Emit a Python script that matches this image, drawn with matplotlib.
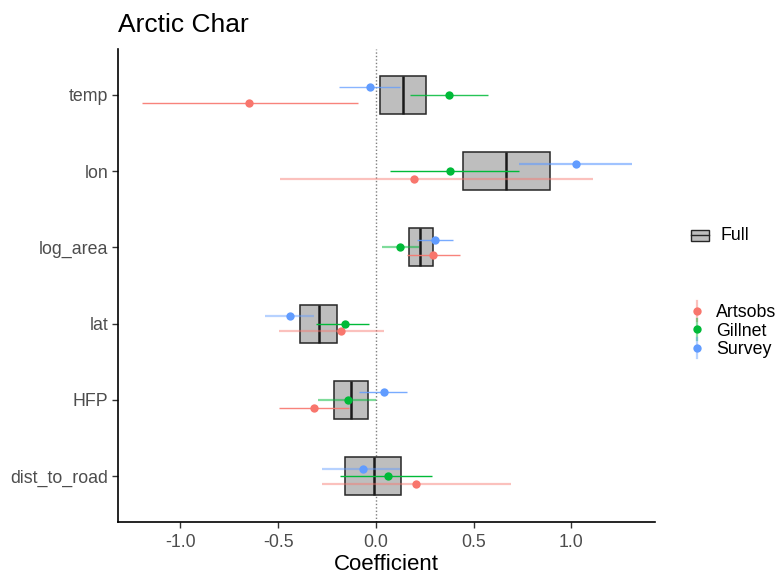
import matplotlib
matplotlib.use("Agg")
import matplotlib.pyplot as plt
from matplotlib.patches import Rectangle
from matplotlib.lines import Line2D
from matplotlib.legend_handler import HandlerBase
import numpy as np

plt.rcParams["font.family"] = ["Liberation Sans", "DejaVu Sans"]

# Predictors, listed top to bottom
variables = ["temp", "lon", "log_area", "lat", "HFP", "dist_to_road"]

# Full model: interquartile box and median of the coefficient
full_q1 = [0.020, 0.445, 0.170, -0.387, -0.216, -0.157]
full_med = [0.137, 0.668, 0.227, -0.290, -0.128, -0.009]
full_q3 = [0.256, 0.890, 0.290, -0.198, -0.041, 0.128]

# Per-source estimates with intervals
sources = ["Artsobs", "Gillnet", "Survey"]
artsobs_est = [-0.649, 0.196, 0.295, -0.177, -0.319, 0.205]
artsobs_lo = [-1.198, -0.488, 0.159, -0.495, -0.495, -0.276]
artsobs_hi = [-0.092, 1.112, 0.431, 0.041, -0.135, 0.690]

gillnet_est = [0.373, 0.378, 0.126, -0.157, -0.141, 0.063]
gillnet_lo = [0.175, 0.072, 0.031, -0.306, -0.294, -0.182]
gillnet_hi = [0.573, 0.735, 0.222, -0.036, 0.000, 0.288]

survey_est = [-0.032, 1.022, 0.305, -0.438, 0.041, -0.067]
survey_lo = [-0.187, 0.733, 0.211, -0.568, -0.086, -0.276]
survey_hi = [0.123, 1.310, 0.395, -0.314, 0.159, 0.124]

# Interval line opacity per predictor
artsobs_alpha = [0.9, 0.45, 0.9, 0.45, 0.9, 0.45]
gillnet_alpha = [0.85, 1.0, 0.5, 1.0, 0.5, 1.0]
survey_alpha = [0.75, 0.6, 0.85, 0.45, 0.85, 0.45]

colors = {"Artsobs": "#F8766D", "Gillnet": "#00BA38", "Survey": "#619CFF"}
offsets = {"Artsobs": -0.1, "Gillnet": 0.0, "Survey": 0.1}
series = {
    "Artsobs": (artsobs_est, artsobs_lo, artsobs_hi, artsobs_alpha),
    "Gillnet": (gillnet_est, gillnet_lo, gillnet_hi, gillnet_alpha),
    "Survey": (survey_est, survey_lo, survey_hi, survey_alpha),
}

n = len(variables)
ypos = np.arange(n)[::-1] + 1  # temp at top

fig = plt.figure(figsize=(7.81, 5.78), dpi=100)
ax = fig.add_axes([0.151, 0.097, 0.688, 0.818])

# Zero reference
ax.axvline(0, color="#7F7F7F", lw=1.0, ls=(0, (1, 1.5)), zorder=1)

# Full-model boxes
q1 = np.array(full_q1)
q3 = np.array(full_q3)
ax.barh(ypos, q3 - q1, left=q1, height=0.5, color="#BEBEBE",
        edgecolor="#262626", linewidth=1.1, zorder=2)
ax.vlines(full_med, ypos - 0.25, ypos + 0.25, color="#1A1A1A", lw=1.8, zorder=3)

# Source-specific point ranges
for s in sources:
    est, lo, hi, al = series[s]
    yy = ypos + offsets[s]
    for i in range(n):
        a = al[i]
        lw = 1.0 if a >= 0.7 else 1.6
        ax.plot([lo[i], hi[i]], [yy[i], yy[i]], color=colors[s], alpha=a,
                lw=lw, solid_capstyle="butt", zorder=4)
    ax.plot(est, yy, "o", color=colors[s], ms=6, mec="none", zorder=5)

ax.set_xlim(-1.32, 1.43)
ax.set_ylim(0.4, 6.6)
ax.set_yticks(ypos)
ax.set_yticklabels(variables)
ax.set_xticks([-1.0, -0.5, 0.0, 0.5, 1.0])
ax.set_xticklabels(["-1.0", "-0.5", "0.0", "0.5", "1.0"])
ax.tick_params(axis="both", labelsize=12.8, labelcolor="#4D4D4D",
               color="#333333", length=4, width=1.0)
ax.tick_params(axis="x", pad=5)
ax.tick_params(axis="y", pad=3)
for side in ["top", "right"]:
    ax.spines[side].set_visible(False)
for side in ["left", "bottom"]:
    ax.spines[side].set_linewidth(1.2)
    ax.spines[side].set_color("black")

ax.set_xlabel("Coefficient", fontsize=16, color="black", labelpad=2)
ax.set_title("Arctic Char", fontsize=19, loc="left", pad=12, color="black")


class BoxKey(HandlerBase):
    def create_artists(self, legend, orig, xd, yd, w, h, fontsize, trans):
        r = Rectangle((xd, yd), w, h, facecolor="#BEBEBE", edgecolor="#262626",
                      lw=1.0, transform=trans)
        ln = Line2D([xd, xd + w], [yd + h / 2] * 2, color="#262626", lw=1.0,
                    transform=trans)
        return [r, ln]


class RangeKey(HandlerBase):
    def create_artists(self, legend, orig, xd, yd, w, h, fontsize, trans):
        c = orig.get_color()
        cx = xd + w / 2
        ln = Line2D([cx, cx], [yd - 3, yd + h + 3], color=c, alpha=0.45, lw=1.6,
                    transform=trans)
        pt = Line2D([cx], [yd + h / 2], marker="o", ms=6, color=c, mec="none",
                    transform=trans)
        return [ln, pt]


box_handle = Rectangle((0, 0), 1, 1)
leg1 = fig.legend([box_handle], ["Full"], handler_map={Rectangle: BoxKey()},
                  loc="center left", bbox_to_anchor=(0.873, 0.592),
                  frameon=False, fontsize=12.8, handlelength=1.05,
                  handleheight=0.6, handletextpad=0.65, borderpad=0)

pt_handles = [Line2D([], [], color=colors[s]) for s in sources]
leg2 = fig.legend(pt_handles, sources, handler_map={Line2D: RangeKey()},
                  loc="center left", bbox_to_anchor=(0.871, 0.427),
                  frameon=False, fontsize=12.8, handlelength=0.9,
                  handleheight=0.7, handletextpad=0.6, labelspacing=0.08,
                  borderpad=0)

fig.savefig("out.png", dpi=100)
